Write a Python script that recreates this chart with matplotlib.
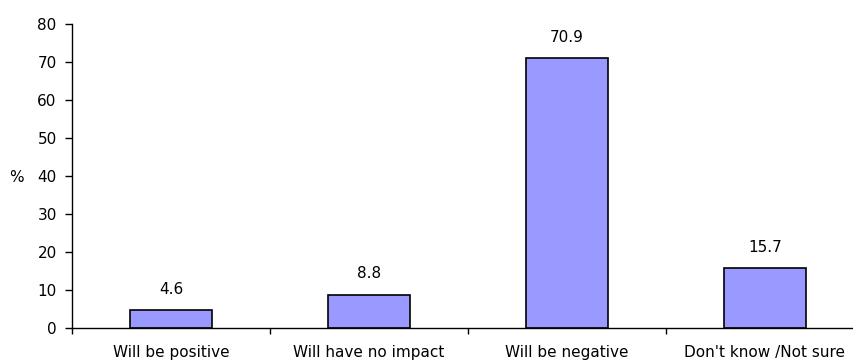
import matplotlib
matplotlib.use("Agg")
import matplotlib.pyplot as plt
import numpy as np

categories = ["Will be positive", "Will have no impact", "Will be negative", "Don't know /Not sure"]
values = [4.6, 8.8, 70.9, 15.7]
yticks = [0, 10, 20, 30, 40, 50, 60, 70, 80]

plt.rcParams['font.family'] = ['DejaVu Sans']
FS = 11

fig = plt.figure(figsize=(8.54, 3.61), dpi=100)
ax = fig.add_axes([72 / 854, 33 / 361, 792 / 854, 304.5 / 361])

x = np.arange(len(categories))
ax.bar(x, values, width=0.41, color='#9999FF', edgecolor='black', linewidth=1.2, zorder=2)

for xi, v in zip(x, values):
    ax.annotate(f"{v:.1f}", (xi, v), xytext=(0, 9.5), textcoords='offset points',
                ha='center', va='bottom', fontsize=FS)

ax.set_xlim(-0.5, 3.5)
ax.set_ylim(0, 80)
ax.set_yticks(yticks)
ax.set_yticklabels([str(t) for t in yticks], fontsize=FS)
ax.tick_params(axis='y', direction='out', length=5, width=1, pad=6)

# category labels centred under bars, ticks drawn at category boundaries
ax.set_xticks(np.arange(-0.5, 3.6, 1.0))
ax.set_xticklabels([])
ax.tick_params(axis='x', direction='out', length=4, width=1)
for xi, lab in zip(x, categories):
    ax.annotate(lab, (xi, 0), xytext=(0, -21.2), textcoords='offset points',
                ha='center', va='baseline', fontsize=FS, annotation_clip=False)

for side in ('top', 'right'):
    ax.spines[side].set_visible(False)
ax.spines['left'].set_linewidth(1)
ax.spines['bottom'].set_linewidth(1)

ax.set_ylabel('%', rotation=0, fontsize=FS, va='center')
ax.yaxis.set_label_coords(-0.07, 0.495)

fig.savefig('out.png', dpi=100)
